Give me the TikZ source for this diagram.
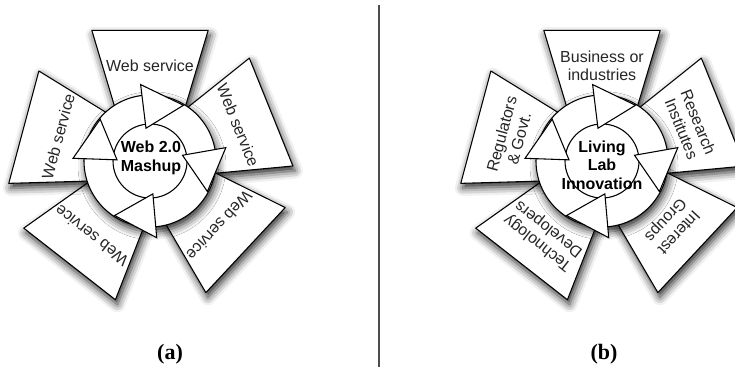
\documentclass[tikz,border=0pt]{standalone}
\usepackage{fontspec}
\setmainfont{Liberation Serif}
\setsansfont{Liberation Sans}
\usetikzlibrary{shadows.blur}

\pgfdeclareradialshading{holeshade}{\pgfpoint{0bp}{0bp}}{color(0bp)=(white); color(30bp)=(white); color(50bp)=(black!65)}

\tikzset{
  blade/.style={draw=black, fill=white, line width=0.8pt, line join=round,
    blur shadow={shadow xshift=1.5pt, shadow yshift=-3.5pt, shadow blur radius=6pt, shadow opacity=85}},
  ring/.style={draw=black, fill=white, line width=0.8pt,
    blur shadow={shadow xshift=1.5pt, shadow yshift=-3.5pt, shadow blur radius=6pt, shadow opacity=85}},
  arrowhead/.style={draw=black, fill=white, line width=0.8pt, line join=miter},
  bladetext/.style={font=\sffamily\fontsize{12}{13.5}\selectfont, align=center, text=black!85},
  hubtext/.style={font=\sffamily\bfseries\fontsize{12}{14}\selectfont, align=center},
  caption/.style={font=\bfseries\fontsize{16.5}{18}\selectfont}
}

\begin{document}
\begin{tikzpicture}[x=0.75pt, y=0.75pt]
\useasboundingbox (0,0) rectangle (735,367);

% (a) Web 2.0 mashup
\begin{scope}[shift={(150,206)}]
\foreach \angle [count=\i] in {90, 22, -43, -128, 165} {
    \draw[blade] (\angle+33:65) -- (\angle+24:143) -- (\angle-24:143) -- (\angle-33:65) -- cycle;
    \node[bladetext, rotate=\angle-90] (ws\i) at (\angle:95) {Web service};
}
% Ring of arrows
\draw[ring] (0,0) circle (66);
\shade[shading=holeshade] (0,0) circle (37);
\draw[line width=0.8pt] (0,0) circle (37);
\foreach \base in {97, 10, -85, 178} {
    \draw[arrowhead] (\base:77) -- (\base-38:65) -- (\base:33) -- cycle;
}
\node[hubtext] (mashup) at (1,3) {Web 2.0\\Mashup};
\end{scope}

% (b) Living lab
\begin{scope}[shift={(602,206)}]
\foreach \angle/\label [count=\i] in {90/{Business or\\industries}, 22/{Research\\Institutes}, -43/{Interest\\Groups}, -128/{Technology\\Developers}, 165/{Regulators\\\& Govt.}} {
    \draw[blade] (\angle+33:65) -- (\angle+24:143) -- (\angle-24:143) -- (\angle-33:65) -- cycle;
    \node[bladetext, rotate=\angle-90] (actor\i) at (\angle:95) {\label};
}
% Ring of arrows
\draw[ring] (0,0) circle (66);
\shade[shading=holeshade] (0,0) circle (37);
\draw[line width=0.8pt] (0,0) circle (37);
\foreach \base in {97, 10, -85, 178} {
    \draw[arrowhead] (\base:77) -- (\base-38:65) -- (\base:33) -- cycle;
}
\node[hubtext] (lab) at (0,-4) {Living\\Lab\\Innovation};
\end{scope}

% Separator and captions
\draw[black!70, line width=0.8pt] (379,362) -- (379,0);
\node[caption] (capa) at (170,13) {(a)};
\node[caption] (capb) at (604,13) {(b)};
\end{tikzpicture}
\end{document}
